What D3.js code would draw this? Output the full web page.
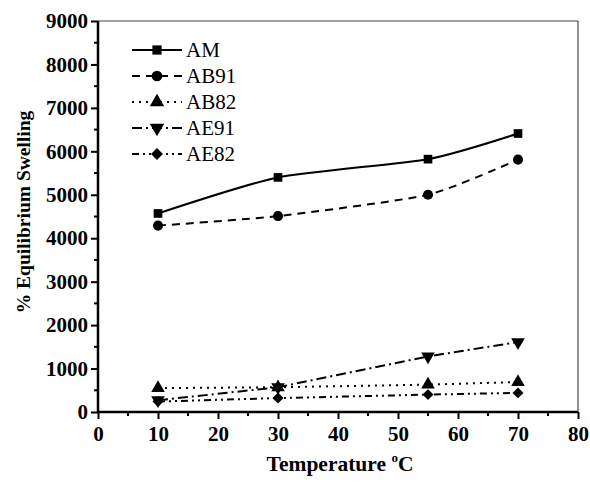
<!DOCTYPE html>
<html>
<head>
<meta charset="utf-8">
<script src="https://cdn.jsdelivr.net/npm/d3@7"></script>
<style>
body{margin:0;background:#fff}
svg text{font-family:"Liberation Serif","Times New Roman",serif;fill:#000}
</style>
</head>
<body>
<div class="chart"></div>
<script>
let temps=[10,30,55,70]
let seriesNames=['AM','AB91','AB82','AE91','AE82']
let am=[4570,5400,5820,6410]
let ab91=[4290,4510,5000,5810]
let ab82=[550,570,630,690]
let ae91=[270,570,1280,1610]
let ae82=[240,320,400,440]
let xTicks=[0,10,20,30,40,50,60,70,80]
let yTicks=[0,1000,2000,3000,4000,5000,6000,7000,8000,9000]

let w=590,h=485
let pLeft=98,pRight=578,pTop=21,pBottom=412
let svg=d3.select('.chart').append('svg').attr('width',w).attr('height',h)
let xScale=d3.scaleLinear().domain([0,80]).range([pLeft,pRight])
let yScale=d3.scaleLinear().domain([0,9000]).range([pBottom,pTop])

let dashes=[null,'8,6','2,5','10,4,2,4','7,4,2,4,2,4']
let symbols=[d3.symbolSquare,d3.symbolCircle,d3.symbolTriangle,d3.symbolTriangle,d3.symbolSquare]
let sizes=[75,80,80,80,60]
let rot=[0,0,0,180,45]
let all=[am,ab91,ab82,ae91,ae82]
let curves=[d3.curveCardinal.tension(0.4),d3.curveCardinal.tension(0.4),d3.curveLinear,d3.curveLinear,d3.curveLinear]

// frame
svg.append('line').attr('x1',pLeft).attr('x2',pRight).attr('y1',pTop).attr('y2',pTop).attr('stroke','#444').attr('stroke-width',1.2)
svg.append('line').attr('x1',pRight).attr('x2',pRight).attr('y1',pTop).attr('y2',pBottom).attr('stroke','#444').attr('stroke-width',1.2)

// minor ticks
let xMinor=d3.range(5,80,10)
svg.selectAll('.xm').data(xMinor).enter().append('line')
  .attr('x1',d=>xScale(d)).attr('x2',d=>xScale(d)).attr('y1',pBottom).attr('y2',pBottom+4).attr('stroke','#000').attr('stroke-width',2)
let yMinor=d3.range(500,9000,1000)
svg.selectAll('.ym').data(yMinor).enter().append('line')
  .attr('y1',d=>yScale(d)).attr('y2',d=>yScale(d)).attr('x1',pLeft).attr('x2',pLeft-4).attr('stroke','#000').attr('stroke-width',2)

let xAxis=d3.axisBottom(xScale).tickValues(xTicks).tickSize(7).tickPadding(7).tickFormat(d3.format('d'))
let yAxis=d3.axisLeft(yScale).tickValues(yTicks).tickSize(7).tickPadding(3).tickFormat(d3.format('d'))
let gx=svg.append('g').attr('transform','translate(0,'+pBottom+')').call(xAxis)
let gy=svg.append('g').attr('transform','translate('+pLeft+',0)').call(yAxis)
;[gx,gy].forEach(g=>{
  g.attr('font-family',null).attr('font-size',null)
  g.select('.domain').attr('stroke-width',2.5)
  g.selectAll('.tick line').attr('stroke-width',2)
  g.selectAll('text').style('font-weight','bold').style('font-size','21px')
})
gx.selectAll('.domain').attr('d','M'+pLeft+',0H'+pRight)
gy.selectAll('.domain').attr('d','M0,'+pBottom+'V'+pTop)

// lines
all.forEach((vals,k)=>{
  let line=d3.line().x((d,i)=>xScale(temps[i])).y(d=>yScale(d)).curve(curves[k])
  svg.append('path').datum(vals).attr('d',line).attr('fill','none').attr('stroke','#000')
    .attr('stroke-width',2).attr('stroke-dasharray',dashes[k])
  svg.selectAll('.m'+k).data(vals).enter().append('path')
    .attr('d',d3.symbol().type(symbols[k]).size(sizes[k]))
    .attr('transform',(d,i)=>'translate('+xScale(temps[i])+','+yScale(d)+') rotate('+rot[k]+')')
    .attr('fill','#000')
})

// legend
seriesNames.forEach((n,k)=>{
  let y=50+k*26
  svg.append('line').attr('x1',132).attr('x2',182).attr('y1',y).attr('y2',y).attr('stroke','#000')
    .attr('stroke-width',2).attr('stroke-dasharray',dashes[k])
  svg.append('path').attr('d',d3.symbol().type(symbols[k]).size(sizes[k]+10))
    .attr('transform','translate(157,'+y+') rotate('+rot[k]+')').attr('fill','#000')
  svg.append('text').text(n).attr('x',186).attr('y',y+7).style('font-size','21px')
})

// titles
let xt=svg.append('text').attr('x',340).attr('y',471).attr('text-anchor','middle')
  .style('font-weight','bold').style('font-size','21.5px')
xt.append('tspan').text('Temperature ')
xt.append('tspan').text('o').style('font-size','13px').attr('dy',-9)
xt.append('tspan').text('C').attr('dy',9)
svg.append('text').text('% Equilibrium Swelling').attr('transform','translate(30,212) rotate(-90)')
  .attr('text-anchor','middle').style('font-weight','bold').style('font-size','19.5px')
</script>
</body>
</html>
